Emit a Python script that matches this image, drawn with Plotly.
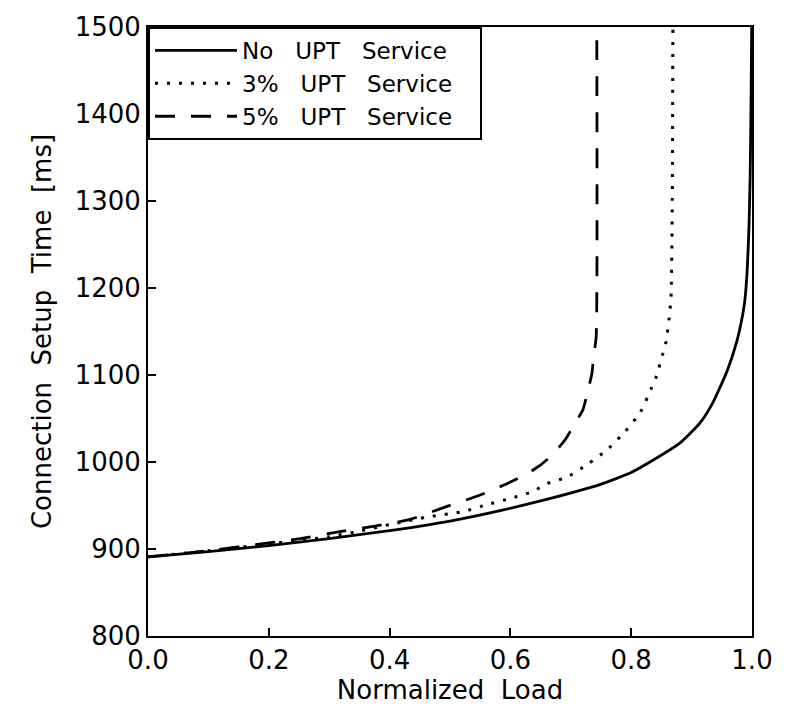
import plotly.graph_objects as go

# Normalized load (x) and connection setup time in ms (y)
load_none = [0.0, 0.1, 0.2, 0.3, 0.4, 0.5, 0.583, 0.66, 0.748, 0.8, 0.831, 0.881, 0.914,
             0.935, 0.959, 0.975, 0.982, 0.988, 0.992, 0.995, 0.997, 0.9985, 0.9995]
time_none = [891, 897, 904, 912, 921, 932, 944, 957, 974, 988, 1000, 1022, 1045,
             1068, 1105, 1139, 1160, 1185, 1220, 1270, 1330, 1420, 1500]

load_3 = [0.0, 0.1, 0.2, 0.3, 0.346, 0.406, 0.464, 0.522, 0.561, 0.599, 0.637, 0.66,
          0.695, 0.729, 0.76, 0.79, 0.815, 0.833, 0.841, 0.853, 0.858, 0.863, 0.866,
          0.868, 0.869]
time_3 = [891, 898, 906, 914, 920, 929, 937, 943, 951, 958, 966, 975,
          983, 998, 1014, 1035, 1057, 1084, 1097, 1126, 1139, 1166, 1190,
          1300, 1500]

load_5 = [0.0, 0.1, 0.2, 0.252, 0.318, 0.373, 0.434, 0.495, 0.55, 0.594, 0.624, 0.649,
          0.669, 0.69, 0.705, 0.72, 0.728, 0.735, 0.738, 0.742, 0.743]
time_5 = [891, 898, 907, 912, 920, 926, 934, 949, 962, 975, 985, 996,
          1008, 1025, 1042, 1060, 1081, 1102, 1122, 1144, 1500]

GAP = "\u00a0\u00a0 "
TAIL = "\u00a0\u00a0\u00a0"
names = ["No" + GAP + "UPT" + GAP + "Service" + TAIL,
         "3%" + GAP + "UPT" + GAP + "Service" + TAIL,
         "5%" + GAP + "UPT" + GAP + "Service" + TAIL]

x_ticks = [0.0, 0.2, 0.4, 0.6, 0.8, 1.0]
x_labels = ["0.0", "0.2", "0.4", "0.6", "0.8", "1.0"]
y_ticks = [800, 900, 1000, 1100, 1200, 1300, 1400, 1500]

x_title = "Normalized\u00a0 Load"
y_title = "Connection\u00a0 Setup\u00a0 Time\u00a0 [ms]"

FONT = "DejaVu Sans"

fig = go.Figure()
fig.add_trace(go.Scatter(x=load_none, y=time_none, mode="lines", name=names[0],
                         line=dict(color="black", width=2.8, shape="spline", smoothing=0.5)))
fig.add_trace(go.Scatter(x=load_3, y=time_3, mode="lines", name=names[1],
                         line=dict(color="black", width=3, dash="3px,9px", shape="spline", smoothing=0.5)))
fig.add_trace(go.Scatter(x=load_5, y=time_5, mode="lines", name=names[2],
                         line=dict(color="black", width=2.8, dash="20px,16px", shape="spline", smoothing=0.5)))

fig.update_layout(
    width=788, height=710,
    margin=dict(l=148, r=36, t=20, b=74),
    paper_bgcolor="white", plot_bgcolor="white",
    font=dict(family=FONT, color="black", size=22),
    showlegend=True,
    legend=dict(x=0, y=1, xanchor="left", yanchor="top",
                bordercolor="black", borderwidth=2, bgcolor="white",
                font=dict(family=FONT, size=23), itemwidth=82,
                tracegroupgap=0),
    xaxis=dict(range=[0, 1], tickvals=x_ticks, ticktext=x_labels,
               ticks="inside", ticklen=8, tickwidth=2, tickcolor="black",
               showline=True, linecolor="black", linewidth=2, mirror=True,
               showgrid=False, zeroline=False,
               tickfont=dict(size=26),
               title=dict(text=x_title, font=dict(size=26), standoff=4)),
    yaxis=dict(range=[800, 1500], tickvals=y_ticks,
               ticks="inside", ticklen=8, tickwidth=2, tickcolor="black",
               showline=True, linecolor="black", linewidth=2, mirror=True,
               showgrid=False, zeroline=False,
               tickfont=dict(size=26),
               title=dict(text=y_title, font=dict(size=26), standoff=16)),
)

fig.write_html("out.html")
